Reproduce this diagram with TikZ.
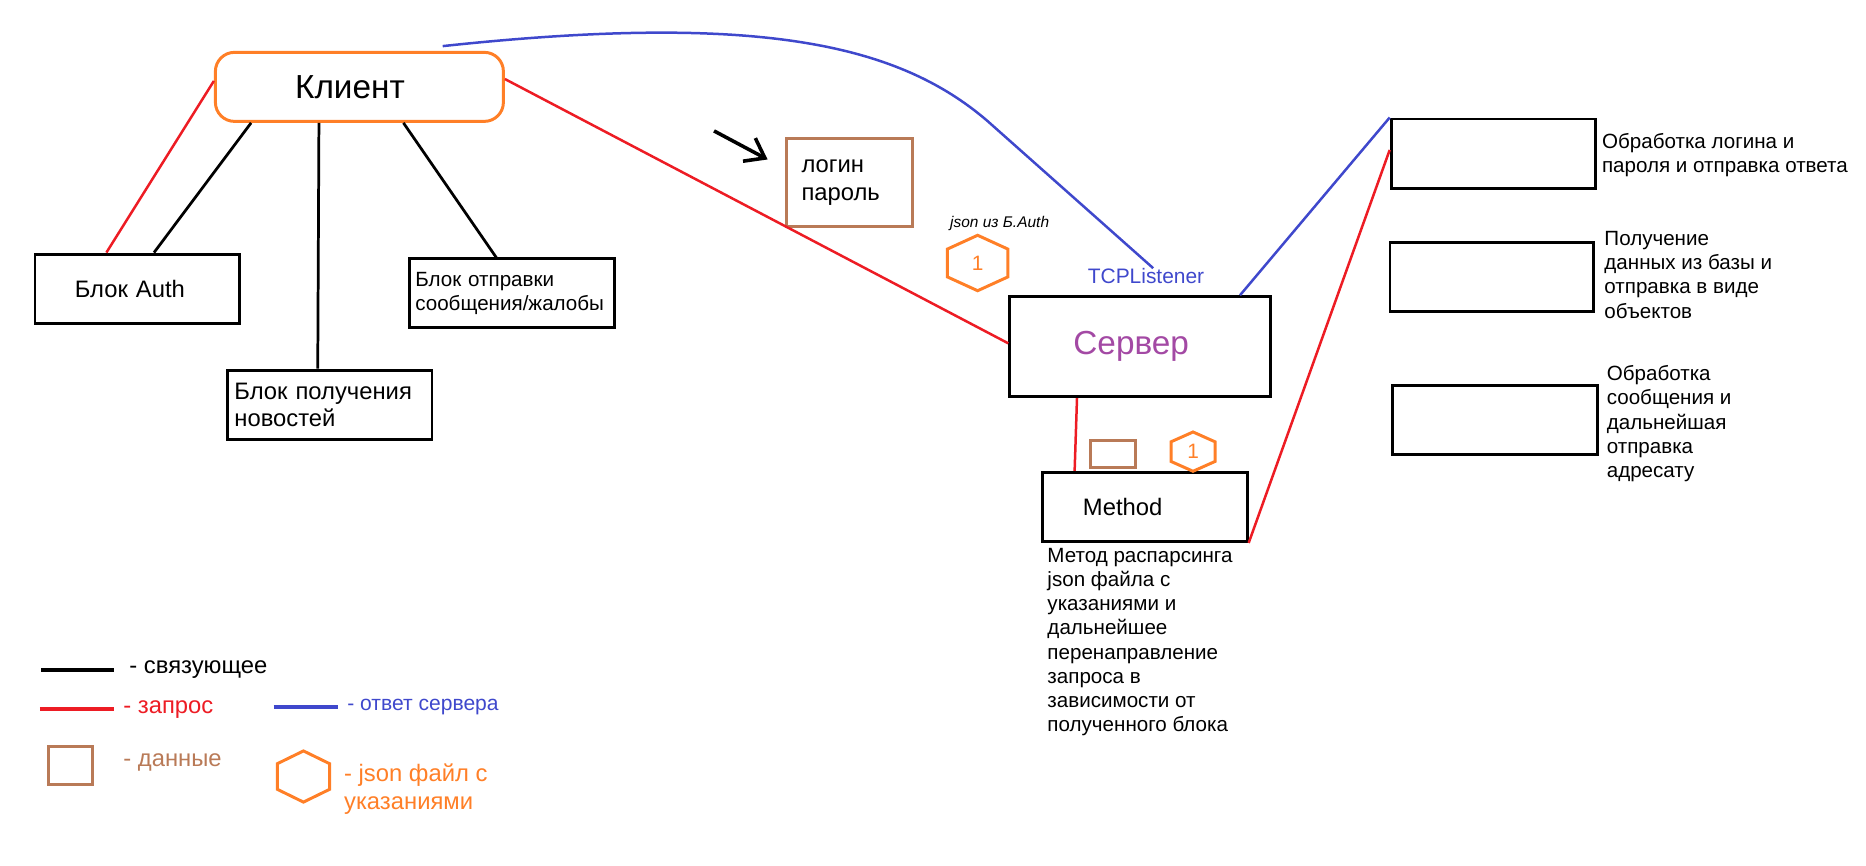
\documentclass[tikz,border=0pt]{standalone}
\usepackage{fontspec}
\setmainfont{Liberation Sans}
\usetikzlibrary{arrows.meta}
\definecolor{pred}{HTML}{ED1C24}
\definecolor{pblue}{HTML}{3F48CC}
\definecolor{porange}{HTML}{FF7F27}
\definecolor{pbrown}{HTML}{B97A57}
\definecolor{ppurple}{HTML}{A349A4}
\begin{document}
\begin{tikzpicture}
[
    x=1pt, y=-1pt,
    box/.style={draw, line width=2.5pt, minimum width=172pt, minimum height=58pt, inner sep=0pt, font=\fontsize{20}{22.4}\selectfont},
    clientbox/.style={draw=porange, line width=2.5pt, rounded corners=16pt, minimum width=242pt, minimum height=58pt, font=\fontsize{28}{32}\selectfont},
    databox/.style={draw=pbrown, line width=2.5pt, inner sep=0pt},
    note/.style={anchor=west, align=left, inner sep=0pt, font=\fontsize{17.3}{20.3}\selectfont},
    legend/.style={anchor=west, align=left, inner sep=0pt, font=\fontsize{20}{24}\selectfont},
    hexnum/.style={text=porange, inner sep=0pt, font=\fontsize{17.5}{20}\selectfont},
    hexline/.style={draw=porange, line width=2.5pt},
    link/.style={line width=2.3pt},
    request/.style={pred, line width=2.1pt},
    answer/.style={pblue, line width=2.1pt},
]
\useasboundingbox (0,0) rectangle (1568,727);

\node[clientbox, text width=108pt, align=left] (client) at (302,73) {Клиент};
\node[box, text width=105pt, align=left] (auth) at (115.4,242.5) {Блок Auth};
\node[box, text width=160pt, align=left] (news) at (277,340) {Блок получения\\новостей};
\node[box, text width=163pt, align=left, font=\fontsize{17.3}{19.7}\selectfont] (msg) at (430.5,246.6) {Блок отправки\\сообщения/жалобы};

\node[databox, minimum width=106pt, minimum height=74.6pt, text width=81pt, align=left, font=\fontsize{20}{23}\selectfont] (login) at (714,153.3) {логин\\пароль};
\node[inner sep=0pt, font=\itshape\fontsize{13}{15}\selectfont] (jsonlbl) at (840,188) {json из Б.Auth};
\node[hexnum] (json1) at (821.5,221) {1};

\node[text=pblue, inner sep=0pt, font=\fontsize{17.6}{20}\selectfont] (tcp) at (963,232) {TCPListener};
\node[box, minimum width=219pt, minimum height=84pt, text width=112pt, align=left, text=ppurple, font=\fontsize{28}{32}\selectfont] (server) at (958,291.3) {Сервер};
\node[databox, minimum width=38pt, minimum height=23pt] (data2) at (935,381.5) {};
\node[hexnum] (json2) at (1002.5,379.5) {1};
\node[box, text width=104pt, align=left] (method) at (962,426) {Method};
\node[note] (methodtxt) at (880,539.5) {Метод распарсинга\\json файла с\\указаниями и\\дальнейшее\\перенаправление\\запроса в\\зависимости от\\полученного блока};

\node[box] (r1) at (1255,129) {};
\node[box, minimum width=171pt] (r2) at (1253.5,232.8) {};
\node[box] (r3) at (1256,352.8) {};
\node[note] (r1txt) at (1346,130) {Обработка логина и\\пароля и отправка ответа};
\node[note] (r2txt) at (1348,231) {Получение\\данных из базы и\\отправка в виде\\объектов};
\node[note] (r3txt) at (1350,356) {Обработка\\сообщения и\\дальнейшая\\отправка\\адресату};

\node[legend] (legbind) at (108.6,563) {- связующее};
\node[legend, text=pred] (legreq) at (103.5,596) {- запрос};
\node[legend, text=pblue, font=\fontsize{17.7}{20}\selectfont] (legresp) at (291.7,594) {- ответ сервера};
\node[legend, text=pbrown] (legdatatxt) at (103.5,641) {- данные};
\node[databox, minimum width=36.5pt, minimum height=31.5pt] (legdata) at (59.3,643.3) {};
\node[legend, text=porange] (legjsontxt) at (289,663) {- json файл с\\указаниями};
\coordinate (legjson) at (255,652.5);

\draw[line width=3pt] (34.5,563) -- (96,563);
\draw[pred, line width=3pt] (33.6,596) -- (96,596);
\draw[pblue, line width=3pt] (230,594) -- (283.6,594);

\foreach \h/\rx/\ry in {json1/25.5/23.3, json2/18.5/16.5, legjson/22/21.5}
    \draw[hexline] (\h.center) +(0,-\ry) -- +(\rx,-\ry/2) -- +(\rx,\ry/2) -- +(0,\ry) -- +(-\rx,\ry/2) -- +(-\rx,-\ry/2) -- cycle;

\draw[request] ([yshift=5pt]client.west) -- ([xshift=-26pt]auth.north);
\draw[link] ([xshift=-91pt]client.south) -- ([xshift=14pt]auth.north);
\draw[link] ([xshift=-34pt]client.south) -- ([xshift=-10pt]news.north);
\draw[link] ([xshift=37pt]client.south) -- ([xshift=-13.5pt]msg.north);
\draw[request] ([yshift=6.6pt]client.east) -- ([yshift=2.8pt]server.west);
\draw[answer] ([xshift=70pt,yshift=4pt]client.north) .. controls (640,10) and (755,38) .. (829,101) -- ([xshift=6pt]tcp.north);
\draw[answer] ([xshift=84pt]server.north) -- (r1.north west);
\draw[request] ([xshift=-53pt]server.south) -- ([xshift=-59pt]method.north);
\draw[request] (method.south east) -- ([yshift=3pt]r1.west);

\coordinate (hinttail) at (600,110);
\coordinate (hinttip) at (645,134);
\draw[line width=3pt, -{Straight Barb[length=15pt,width=22pt]}] (hinttail) -- (hinttip);
\end{tikzpicture}
\end{document}
